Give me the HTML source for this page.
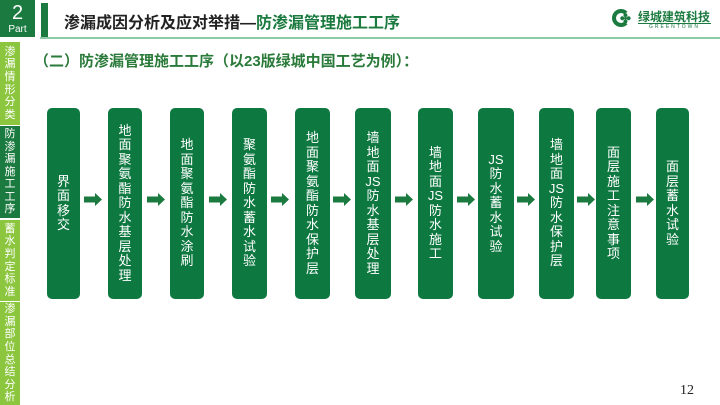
<!DOCTYPE html>
<html><head><meta charset="utf-8"><style>
*{margin:0;padding:0;box-sizing:border-box}
body{width:720px;height:405px;background:#fff;position:relative;overflow:hidden;font-family:"Liberation Sans","Noto Sans CJK SC",sans-serif}
.a{position:absolute}
.part{left:0;top:0;width:35px;height:37px;background:#1b7a3f;color:#fff;text-align:center}
.bar{left:41px;top:3px;width:7px;height:34px;background:#1b7a3f}
.title{left:64px;top:9px;font-size:16px;font-weight:bold;color:#222;white-space:nowrap}
.hl{left:40px;top:37px;width:680px;height:2px;background:#8cc9a4}
.sub{left:34px;top:50px;font-size:15px;font-weight:bold;color:#2a7a3a;white-space:nowrap}
.side{left:0;width:20px;color:#fff;font-size:11px;line-height:12.6px;text-align:center;display:flex;flex-direction:column;justify-content:center;align-items:center}
.box{top:108px;height:191px;width:35px;background:#0d7840;border-radius:5px;color:#fff;font-size:13px;line-height:14.5px;display:flex;flex-direction:column;justify-content:center;align-items:center;text-align:center}
</style></head><body>
<div class="a part"><div style="font-size:20px;line-height:22px;padding-top:2px">2</div><div style="font-size:10px;line-height:11px">Part</div></div>
<div class="a bar"></div>
<div class="a title">渗漏成因分析及应对举措—<span style="color:#1b7a3f">防渗漏管理施工工序</span></div>
<div class="a hl"></div>
<div class="a" style="left:612px;top:9px;width:18px;height:18px;border-radius:50%;border:4px solid #1b7a3f;border-right-color:transparent"></div>
<div class="a" style="left:620px;top:11px;color:#1b7a3f;font-size:13px;font-weight:bold">✤</div>
<div class="a" style="left:638px;top:8px;color:#1b7a3f;font-size:12px;font-weight:bold;white-space:nowrap">绿城建筑科技</div>
<div class="a" style="left:638px;top:23px;width:73px;border-top:1px solid #1b7a3f;color:#1b7a3f;font-size:5px;letter-spacing:2px;text-align:center">GREENTOWN</div>
<div class="a sub">（二）防渗漏管理施工工序（以23版绿城中国工艺为例）：</div>
<div class="a side" style="top:42px;height:83px;background:#8cc63e">渗<br>漏<br>情<br>形<br>分<br>类</div>
<div class="a side" style="top:126px;height:92px;background:#1b7a3f">防<br>渗<br>漏<br>施<br>工<br>工<br>序</div>
<div class="a side" style="top:220px;height:81px;background:#8cc63e">蓄<br>水<br>判<br>定<br>标<br>准</div>
<div class="a side" style="top:302px;height:103px;background:#8cc63e">渗<br>漏<br>部<br>位<br>总<br>结<br>分<br>析</div>

<div class="a box" style="left:47px;width:33px">界<br>面<br>移<br>交</div>
<div class="a box" style="left:108px;width:34px">地<br>面<br>聚<br>氨<br>酯<br>防<br>水<br>基<br>层<br>处<br>理</div>
<div class="a box" style="left:170px;width:34px">地<br>面<br>聚<br>氨<br>酯<br>防<br>水<br>涂<br>刷</div>
<div class="a box" style="left:232px">聚<br>氨<br>酯<br>防<br>水<br>蓄<br>水<br>试<br>验</div>
<div class="a box" style="left:295px">地<br>面<br>聚<br>氨<br>酯<br>防<br>水<br>保<br>护<br>层</div>
<div class="a box" style="left:355px;width:36px">墙<br>地<br>面<br>JS<br>防<br>水<br>基<br>层<br>处<br>理</div>
<div class="a box" style="left:418px">墙<br>地<br>面<br>JS<br>防<br>水<br>施<br>工</div>
<div class="a box" style="left:478px;width:36px">JS<br>防<br>水<br>蓄<br>水<br>试<br>验</div>
<div class="a box" style="left:539px">墙<br>地<br>面<br>JS<br>防<br>水<br>保<br>护<br>层</div>
<div class="a box" style="left:596px">面<br>层<br>施<br>工<br>注<br>意<br>事<br>项</div>
<div class="a box" style="left:656px;width:33px">面<br>层<br>蓄<br>水<br>试<br>验</div>

<svg class="a" style="left:0;top:0" width="720" height="405">
<defs><path id="ar" d="M0,3.5 H11 V0 L18,6.5 L11,13 V9.5 H0 Z" fill="#1b7a3f"/></defs>
<use href="#ar" x="84" y="193"/>
<use href="#ar" x="147" y="193"/>
<use href="#ar" x="209" y="193"/>
<use href="#ar" x="271" y="193"/>
<use href="#ar" x="333" y="193"/>
<use href="#ar" x="395" y="193"/>
<use href="#ar" x="457" y="193"/>
<use href="#ar" x="517" y="193"/>
<use href="#ar" x="577" y="193"/>
<use href="#ar" x="636" y="193"/>
</svg>
<div class="a" style="left:680px;top:383px;font-family:'Liberation Serif',serif;font-size:14px;color:#222">12</div>
</body></html>
